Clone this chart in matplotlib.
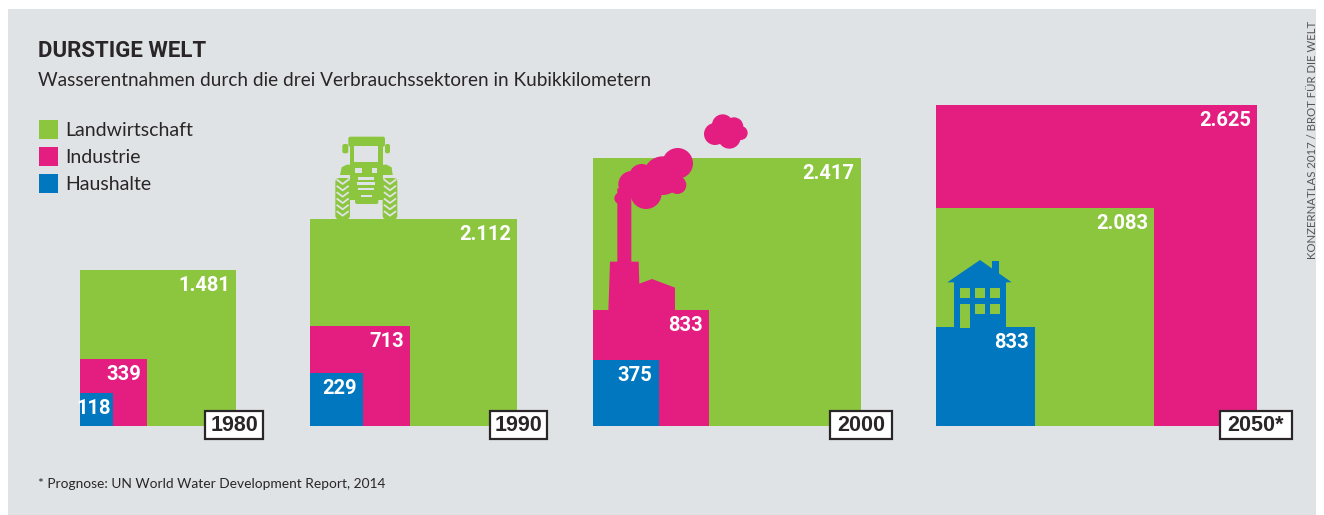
import matplotlib
matplotlib.use('Agg')
import matplotlib.pyplot as plt
from matplotlib.patches import Rectangle, Circle, Polygon, FancyBboxPatch

years = ['1980', '1990', '2000', '2050*']
landwirtschaft = ['1.481', '2.112', '2.417', '2.083']
industrie = ['339', '713', '833', '2.625']
haushalte = ['118', '229', '375', '833']

# side length of each square as measured in the picture
side_land = [156, 207, 268, 218]
side_ind = [67, 100, 116, 321]
side_haus = [33, 53, 66, 99]

group_left = [80, 310, 592.5, 936]
year_left = [205, 490, 830, 1220]
year_right = [263, 547, 892, 1292]

GREEN = '#8cc63f'
PINK = '#e31e80'
BLUE = '#0077bf'
BG = '#e0e3e6'
DARK = '#2a2627'
BASE = 426

fig = plt.figure(figsize=(13.24, 5.15), dpi=100)
ax = fig.add_axes([0, 0, 1, 1])
ax.set_xlim(0, 1324)
ax.set_ylim(515, 0)
ax.axis('off')

ax.add_patch(Rectangle((8, 9), 1308, 506, fc=BG, ec='none', zorder=0))

# biggest square goes behind, the order changes only for 2050
for i, year in enumerate(years):
    parts = sorted([(side_land[i], landwirtschaft[i], GREEN), (side_ind[i], industrie[i], PINK),
                    (side_haus[i], haushalte[i], BLUE)], key=lambda p: -p[0])
    for z, (s, v, c) in enumerate(parts):
        ax.bar(group_left[i], -s, width=s, bottom=BASE, align='edge', color=c, zorder=2 + z * 2)
        pad = 2 if s < 40 else 6
        ax.text(group_left[i] + s - pad, BASE - s + 15.5, v, color='white', family='Roboto',
                weight='bold', fontsize=14.5, ha='right', va='center', zorder=10)

# year boxes
for y, l, r in zip(years, year_left, year_right):
    ax.add_patch(Rectangle((l, 411), r - l, 28, fc='white', ec=DARK, lw=1.6, zorder=11))
    ax.text((l + r) / 2, 425.5, y, family='Liberation Sans', weight='bold', fontsize=15.5,
            color=DARK, ha='center', va='center', zorder=12)


def pts(ox, oy, xy):
    return [(ox + a / 3, oy + b / 3) for a, b in xy]


def rect(ox, oy, x0, y0, x1, y1, c, z):
    ax.add_patch(Rectangle((ox + x0 / 3, oy + y0 / 3), (x1 - x0) / 3, (y1 - y0) / 3,
                           fc=c, ec='none', zorder=z))


def rrect(ox, oy, x0, y0, x1, y1, c, z, r=3):
    ax.add_patch(FancyBboxPatch((ox + x0 / 3 + r, oy + y0 / 3 + r), (x1 - x0) / 3 - 2 * r,
                                (y1 - y0) / 3 - 2 * r, boxstyle='round,pad=%s' % r,
                                fc=c, ec='none', zorder=z))


# tractor
ox, oy = 300, 120
rrect(ox, oy, 145, 50, 255, 80, GREEN, 3, 2)
rrect(ox, oy, 127, 72, 145, 100, GREEN, 3, 2)
rrect(ox, oy, 255, 72, 270, 100, GREEN, 3, 2)
rect(ox, oy, 150, 72, 248, 135, GREEN, 3)
rect(ox, oy, 163, 77, 235, 125, BG, 4)
ax.add_patch(Polygon(pts(ox, oy, [(120, 165), (125, 142), (140, 134), (260, 134), (275, 142), (278, 165)]),
                     fc=GREEN, ec='none', zorder=3))
rect(ox, oy, 150, 160, 250, 240, GREEN, 3)
rrect(ox, oy, 165, 230, 235, 252, GREEN, 3, 2)
rrect(ox, oy, 106, 174, 150, 298, GREEN, 3, 4)
rrect(ox, oy, 248, 174, 292, 298, GREEN, 3, 4)
for a, b, c, d in [(165, 143, 185, 160), (215, 143, 232, 160), (175, 172, 222, 180),
                   (172, 187, 225, 195), (175, 203, 222, 210), (183, 225, 215, 232)]:
    rect(ox, oy, a, b, c, d, BG, 4)
for wx in (128, 270):
    for k in range(6):
        y0 = 180 + k * 19
        ax.plot([ox + (wx - 16) / 3, ox + wx / 3, ox + (wx + 16) / 3],
                [oy + y0 / 3, oy + (y0 + 12) / 3, oy + y0 / 3], color=BG, lw=1.3, zorder=4)

# factory
ox, oy = 590, 105
ax.add_patch(Polygon(pts(ox, oy, [(60, 470), (82, 470), (82, 250), (124, 250), (124, 470), (146, 470),
                                  (148, 536), (186, 522), (255, 548), (255, 620), (55, 620)]),
                     fc=PINK, ec='none', zorder=3))
for cx, cy, r in [(263, 175, 46), (218, 212, 58), (155, 215, 38), (125, 238, 40), (168, 265, 47),
                  (262, 240, 27), (90, 280, 17), (375, 87, 33), (398, 60, 32), (432, 65, 28),
                  (418, 97, 34), (452, 84, 21)]:
    ax.add_patch(Circle((ox + cx / 3, oy + cy / 3), r / 3, fc=PINK, ec='none', zorder=3))

# house
ox, oy = 930, 250
ax.add_patch(Polygon(pts(ox, oy, [(52, 97), (150, 30), (245, 97)]), fc=BLUE, ec='none', zorder=7))
rect(ox, oy, 186, 33, 207, 75, BLUE, 7)
rect(ox, oy, 72, 97, 228, 235, BLUE, 7)
for a, b, c, d in [(90, 114, 120, 144), (135, 114, 165, 144), (180, 114, 210, 144),
                   (135, 162, 165, 192), (180, 162, 210, 192), (90, 162, 120, 234)]:
    rect(ox, oy, a, b, c, d, GREEN, 8)

# titles
ax.text(38, 51, 'DURSTIGE WELT', family='Roboto', weight='bold', fontsize=16, color=DARK, va='center')
ax.text(38, 80, 'Wasserentnahmen durch die drei Verbrauchssektoren in Kubikkilometern',
        family='Lato', fontsize=13.65, color=DARK, va='center')

# legend
for y, label, c in zip([120, 147, 174], ['Landwirtschaft', 'Industrie', 'Haushalte'], [GREEN, PINK, BLUE]):
    ax.add_patch(Rectangle((39, y), 19, 19, fc=c, ec='none'))
    ax.text(65, y + 10.5, label, family='Lato', fontsize=14, color=DARK, va='center')

ax.text(38, 484, '* Prognose: UN World Water Development Report, 2014', family='Lato',
        fontsize=9.9, color=DARK, va='center')
ax.text(1312, 140, 'KONZERNATLAS 2017 / BROT FÜR DIE WELT', family='Lato', fontsize=8.2,
        color='#555555', rotation=90, ha='center', va='center')

fig.savefig('out.png', dpi=100)
